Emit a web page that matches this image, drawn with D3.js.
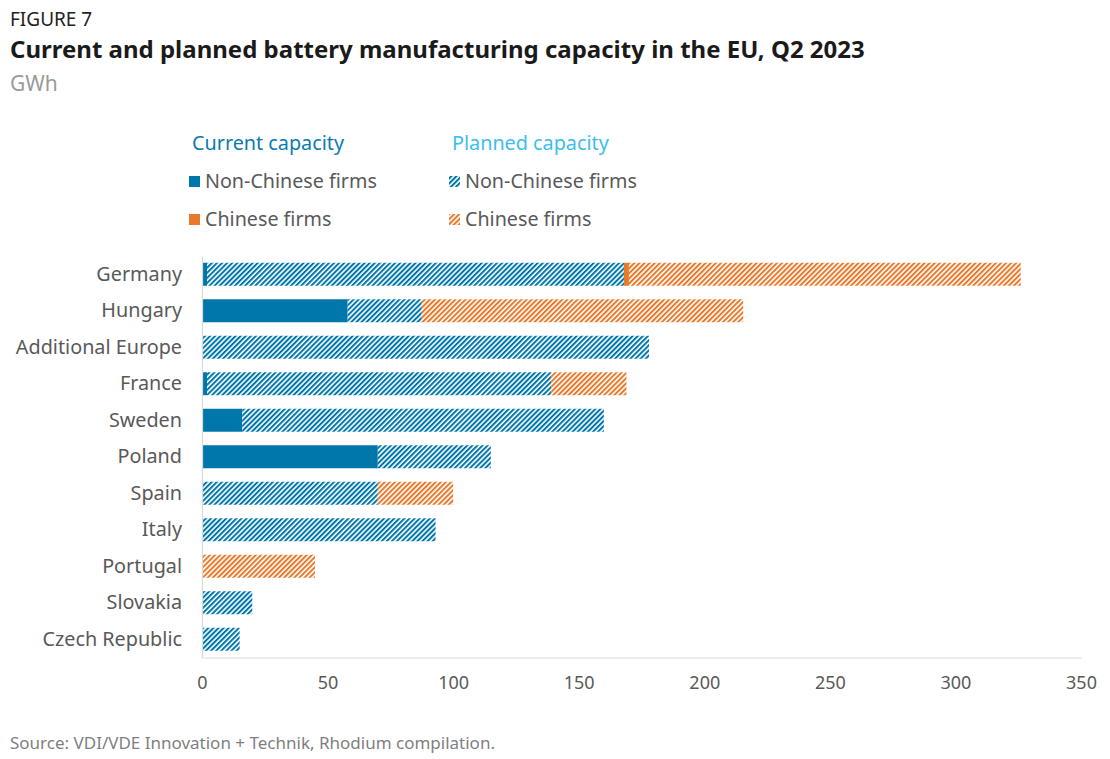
<!DOCTYPE html>
<html><head><meta charset="utf-8">
<script src="https://cdn.jsdelivr.net/npm/d3@7"></script>
<style>body{margin:0;background:#fff;} svg{display:block;} text{font-family:"Noto Sans",sans-serif;}</style>
</head><body><svg id="c" width="1110" height="759"></svg>
<script>
const categories = ["Germany","Hungary","Additional Europe","France","Sweden","Poland","Spain","Italy","Portugal","Slovakia","Czech Republic"];
const currentNonChinese = [2,58,0,2,16,70,0,0,0,0,0];
const plannedNonChinese = [166,29.5,178,137,144,45,70,93,0,20,15];
const currentChinese    = [2,0,0,0,0,0,0,0,0,0,0];
const plannedChinese    = [156,128,0,30,0,0,30,0,45,0,0];
const xTicks = [0,50,100,150,200,250,300,350];
const seriesNames = ["currentNonChinese","plannedNonChinese","currentChinese","plannedChinese"];

const BLUE="#0077ab", ORANGE="#e8792a";
const svg=d3.select("#c");
const defs=svg.append("defs");
function hatch(id,color){
  const p=defs.append("pattern").attr("id",id).attr("patternUnits","userSpaceOnUse")
    .attr("width",3.6).attr("height",3.6).attr("patternTransform","rotate(45)");
  p.append("rect").attr("width",3.6).attr("height",3.6).attr("fill","#fff");
  p.append("rect").attr("x",0).attr("width",2).attr("height",3.6).attr("fill",color);
}
hatch("hb",BLUE); hatch("ho",ORANGE);
const fills={currentNonChinese:BLUE,plannedNonChinese:"url(#hb)",currentChinese:ORANGE,plannedChinese:"url(#ho)"};

// titles
svg.append("text").attr("x",10).attr("y",26).attr("font-size",19).attr("fill","#222").text("FIGURE 7");
svg.append("text").attr("x",10).attr("y",58).attr("font-size",24).attr("font-weight",700).attr("fill","#1a1a1a")
  .text("Current and planned battery manufacturing capacity in the EU, Q2 2023");
svg.append("text").attr("x",10).attr("y",91).attr("font-size",21).attr("fill","#9a9a9a").text("GWh");

const x=d3.scaleLinear().domain([0,350]).range([202,1081]);
const y=d3.scaleBand().domain(categories).range([256,657.5]).paddingInner(0.37).paddingOuter(0.185);

const rows=categories.map((c,i)=>({cat:c,currentNonChinese:currentNonChinese[i],plannedNonChinese:plannedNonChinese[i],currentChinese:currentChinese[i],plannedChinese:plannedChinese[i]}));
const stack=d3.stack().keys(seriesNames)(rows);

svg.append("g").selectAll("g").data(stack).join("g").attr("fill",d=>fills[d.key])
  .selectAll("rect").data(d=>d).join("rect")
  .attr("x",d=>x(d[0])).attr("width",d=>Math.max(0,x(d[1])-x(d[0])))
  .attr("y",d=>y(d.data.cat)).attr("height",y.bandwidth());

// axes
const xa=svg.append("g").attr("transform","translate(0,657.5)").call(d3.axisBottom(x).tickValues(xTicks).tickSize(0).tickPadding(19));
xa.select(".domain").attr("stroke","#d9d9d9").attr("stroke-width",1.2);
xa.selectAll("text").attr("font-size",18).attr("fill","#595959").attr("font-family","Noto Sans");
const ya=svg.append("g").attr("transform","translate(202,0)").call(d3.axisLeft(y).tickSize(0).tickPadding(20));
ya.select(".domain").attr("stroke","#d9d9d9").attr("stroke-width",1.2);
ya.selectAll("text").attr("font-size",19.8).attr("fill","#595959").attr("font-family","Noto Sans");

// legend
svg.append("text").attr("x",192).attr("y",150).attr("font-size",19.8).attr("fill","#0a7bb0").text("Current capacity");
svg.append("text").attr("x",452).attr("y",150).attr("font-size",19.8).attr("fill","#3dbdf0").text("Planned capacity");
const leg=[
 {x:189,y:176,f:BLUE,t:"Non-Chinese firms"},
 {x:189,y:214,f:ORANGE,t:"Chinese firms"},
 {x:449,y:176,f:"url(#hb)",t:"Non-Chinese firms"},
 {x:449,y:214,f:"url(#ho)",t:"Chinese firms"}];
leg.forEach(l=>{
  svg.append("rect").attr("x",l.x).attr("y",l.y).attr("width",11).attr("height",11).attr("fill",l.f);
  svg.append("text").attr("x",l.x+16).attr("y",l.y+12).attr("font-size",19.7).attr("fill","#595959").text(l.t);
});

svg.append("text").attr("x",10).attr("y",749).attr("font-size",17).attr("fill","#7f7f7f")
  .text("Source: VDI/VDE Innovation + Technik, Rhodium compilation.");
</script></body></html>
